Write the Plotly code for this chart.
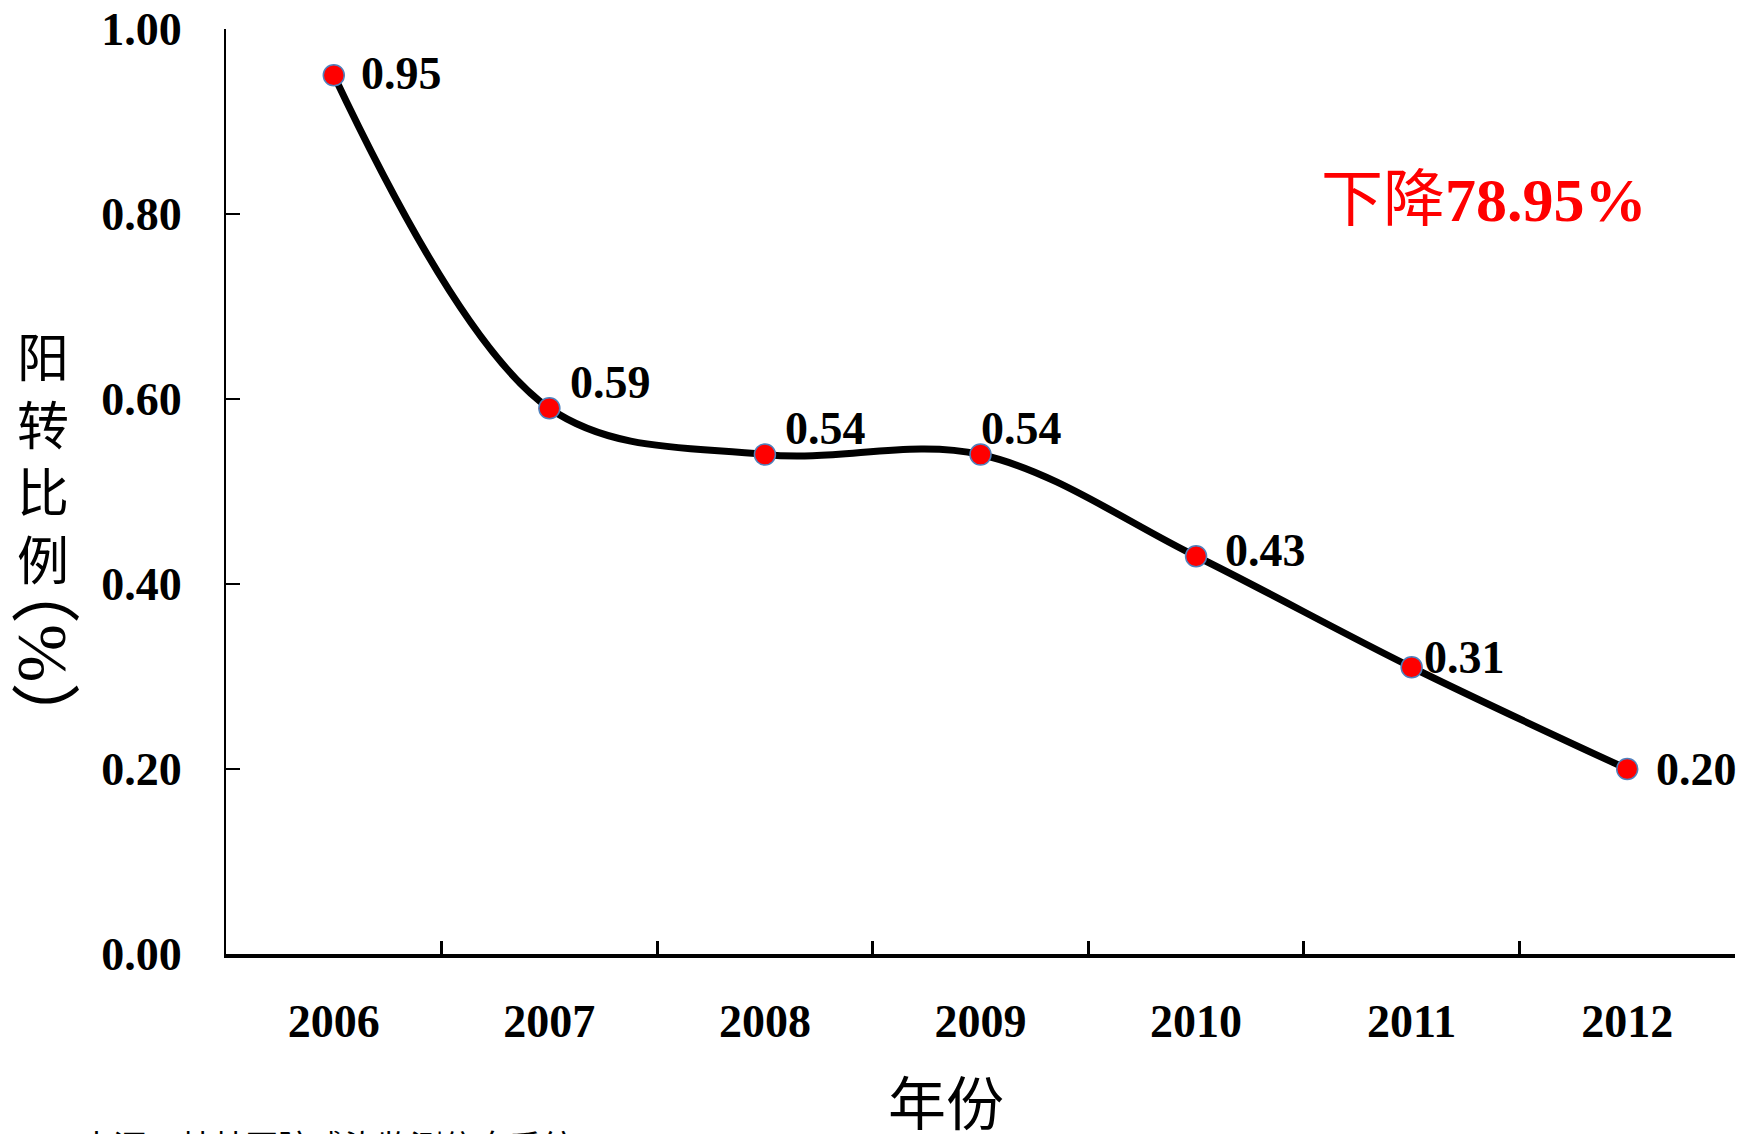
import plotly.graph_objects as go

years = ["2006", "2007", "2008", "2009", "2010", "2011", "2012"]
rates = [0.95, 0.59, 0.54, 0.54, 0.43, 0.31, 0.20]
y_ticks = [0.0, 0.2, 0.4, 0.6, 0.8, 1.0]
# label offsets (pixels) for each data label
label_dx = [68, 61, 61, 41, 69, 53, 69]
label_dy = [2, 26, 26, 26, 6, 10, 0]

# page has an 8px body margin: figure is shifted by OFF in both directions
OFF = 8
W, H = 1745 - OFF, 1134 - OFF
L, R, T, B = 226 - OFF, 10, 29 - OFF, 180
pw, ph = W - L - R, H - T - B

SERIF = "Liberation Serif, Times New Roman, serif"
CJK = "Noto Sans CJK SC"


def px(xp):  # page pixel -> paper x
    return (xp - OFF - L) / pw


def py(yp):  # page pixel -> paper y
    return (H - B - (yp - OFF)) / ph


fig = go.Figure()
fig.add_trace(go.Scatter(
    x=years, y=rates, mode="lines+markers",
    line=dict(color="black", width=7, shape="spline", smoothing=1),
    marker=dict(size=21, color="#FF0000", line=dict(color="#4F81BD", width=1.5)),
    hoverinfo="skip", showlegend=False, cliponaxis=False,
))

annotations = []
for i, (y, dx, dy) in enumerate(zip(rates, label_dx, label_dy)):
    annotations.append(dict(
        x=i, y=y, xref="x", yref="y", text=f"<b>{y:.2f}</b>", showarrow=False,
        xanchor="center", yanchor="middle",
        xshift=dx, yshift=dy, font=dict(family=SERIF, size=46, color="black"),
    ))

# red annotation
annotations.append(dict(
    x=px(1484), y=py(194), xref="paper", yref="paper",
    xanchor="center", yanchor="middle",
    text=f"<span style='font-family:{CJK}'>下降</span><b>78.95%</b>",
    showarrow=False, font=dict(family=SERIF, size=62, color="#FF0000"),
))

# x axis title
annotations.append(dict(
    x=px(946), y=py(1100), xref="paper", yref="paper",
    xanchor="center", yanchor="middle",
    text="年份", showarrow=False, font=dict(family=CJK, size=58, color="black"),
))

# y axis title (vertical, upright characters)
annotations.append(dict(
    x=px(43), y=py(456), xref="paper", yref="paper",
    xanchor="center", yanchor="middle",
    text="<br>".join("阳转比例"), showarrow=False,
    font=dict(family=CJK, size=52, color="black"),
))
annotations.append(dict(
    x=px(43), y=py(653), xref="paper", yref="paper",
    xanchor="center", yanchor="middle",
    text="（%）", textangle=90, showarrow=False,
    font=dict(family="Liberation Serif, Noto Sans CJK SC", size=70, color="black"),
))

# source note (cut off at bottom)
annotations.append(dict(
    x=px(78), y=py(1119), xref="paper", yref="paper",
    xanchor="left", yanchor="top",
    text="来源：某某医院感染监测信息系统", showarrow=False,
    font=dict(family=CJK, size=33, color="black"),
))

fig.update_layout(
    width=W, height=H,
    margin=dict(l=L, r=R, t=T, b=B, autoexpand=False),
    paper_bgcolor="white", plot_bgcolor="white",
    annotations=annotations,
    xaxis=dict(
        type="category", categoryorder="array", categoryarray=years,
        range=[-0.5, len(years) - 0.5], automargin=False,
        showline=True, linecolor="black", linewidth=4,
        ticks="inside", ticklen=13, tickwidth=3, tickcolor="black",
        tickson="boundaries", showgrid=False, zeroline=False,
        tickfont=dict(family=SERIF, size=46, color="black", weight="bold"),
        ticklabelstandoff=24, ticklabeloverflow="allow",
    ),
    yaxis=dict(
        range=[0, 1], tickvals=y_ticks, tickformat=".2f", automargin=False,
        showline=True, linecolor="black", linewidth=2,
        ticks="inside", ticklen=14, tickwidth=2, tickcolor="black",
        showgrid=False, zeroline=False,
        tickfont=dict(family=SERIF, size=46, color="black", weight="bold"),
        ticklabelstandoff=33, ticklabeloverflow="allow",
    ),
)

fig.write_html("out.html")
